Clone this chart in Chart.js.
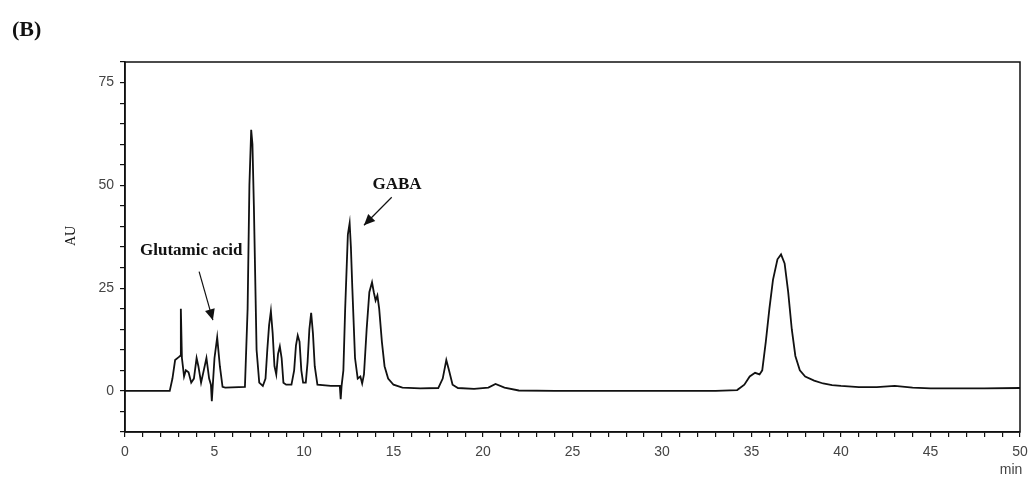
<!DOCTYPE html>
<html>
<head>
<meta charset="utf-8">
<script src="https://cdn.jsdelivr.net/npm/chart.js@4/dist/chart.umd.min.js"></script>
<style>
  html, body { margin: 0; padding: 0; background: #fff; }
  #wrap { width: 1028px; height: 477px; position: relative; }
</style>
</head>
<body>
<div id="wrap"><canvas id="chrom" width="1028" height="477"></canvas></div>
<script>
// Retention time (min) and detector response (AU)
const times = [
  0, 1, 2.5, 2.65, 2.8, 3.0, 3.08, 3.12, 3.18, 3.3, 3.4, 3.55, 3.7, 3.85, 4.0, 4.1,
  4.25, 4.4, 4.55, 4.7, 4.8, 4.85, 4.9, 5.0, 5.15, 5.3, 5.45, 5.6, 6.7, 6.85, 6.95,
  7.05, 7.12, 7.2, 7.35, 7.5, 7.7, 7.85, 7.95, 8.05, 8.15, 8.25, 8.35, 8.45, 8.55,
  8.65, 8.75, 8.85, 9.0, 9.3, 9.45, 9.55, 9.65, 9.75, 9.85, 9.95, 10.1, 10.2, 10.3,
  10.4, 10.5, 10.6, 10.75, 11.5, 12.0, 12.05, 12.1, 12.2, 12.3, 12.45, 12.55, 12.62,
  12.7, 12.85, 13.0, 13.15, 13.25, 13.35, 13.5, 13.65, 13.8, 13.9, 14.0, 14.1, 14.2,
  14.35, 14.5, 14.7, 15.0, 15.5, 16.5, 17.5, 17.75, 17.95, 18.1, 18.3, 18.6, 19.5,
  20.3, 20.7, 21.2, 22.0, 24, 27, 30, 33, 34.2, 34.6, 34.9, 35.2, 35.45, 35.6, 35.8,
  36.0, 36.2, 36.45, 36.65, 36.85, 37.05, 37.25, 37.45, 37.7, 38.0, 38.5, 39.0, 39.5,
  40.0, 41.0, 42.0, 43.0, 44.0, 45.0, 46.0, 48.0, 50.0
];
const au = [
  0, 0, 0, 3, 7.5, 8.2, 8.5, 20, 8, 3.5, 5, 4.5, 2, 3, 8, 6,
  2, 5, 8, 3, 1.5, -2.5, 1, 8, 13, 6, 1, 0.8, 1, 20, 50,
  63.5, 60, 45, 10, 2, 1.2, 3, 10, 16, 19.4, 14, 6, 4, 9,
  10.8, 8, 2, 1.5, 1.5, 5, 11, 13.5, 12, 5, 2, 2, 7, 15,
  19, 14, 6, 1.5, 1.2, 1.2, -2, 1.2, 5, 20, 38, 40.8, 35,
  25, 8, 3, 3.5, 1.8, 4, 15, 24, 26.4, 24, 22, 23.2, 20,
  12, 6, 3, 1.5, 0.8, 0.6, 0.7, 3, 7.5, 5, 1.5, 0.7, 0.5,
  0.8, 1.7, 0.8, 0.1, 0, 0, 0, 0, 0.2, 1.5, 3.5, 4.4, 4, 5, 12,
  20, 27, 32, 33.2, 31, 24, 15, 8.5, 5, 3.5, 2.5, 1.8, 1.4,
  1.2, 0.9, 0.9, 1.2, 0.8, 0.6, 0.6, 0.6, 0.7
];
const yLabels = [0, 25, 50, 75];

const points = times.map((t, i) => ({ x: t, y: au[i] }));

// Box, outer labels and the two peak annotations
const decorations = {
  id: "decorations",
  afterDraw(chart) {
    const { ctx, chartArea: a, scales } = chart;
    const px = v => scales.x.getPixelForValue(v);
    const py = v => scales.y.getPixelForValue(v);
    ctx.save();
    ctx.strokeStyle = "#111";
    ctx.lineWidth = 1.5;
    ctx.strokeRect(a.left, a.top, a.right - a.left, a.bottom - a.top);

    ctx.fillStyle = "#111";
    ctx.font = "bold 22px 'Liberation Serif'";
    ctx.textBaseline = "alphabetic";
    ctx.fillText("(B)", 12, 36);

    ctx.font = "14px 'Liberation Serif'";
    ctx.textAlign = "center";
    ctx.textBaseline = "middle";
    ctx.save();
    ctx.translate(71, 236);
    ctx.rotate(-Math.PI / 2);
    ctx.fillText("AU", 0, 0);
    ctx.restore();

    ctx.fillStyle = "#444";
    ctx.font = "14px 'Liberation Sans'";
    ctx.fillText("min", 1011, 470);

    ctx.fillStyle = "#111";
    ctx.font = "bold 17px 'Liberation Serif'";
    ctx.fillText("Glutamic acid", px(3.7), py(34.2));
    ctx.fillText("GABA", px(15.2), py(50.2));

    const arrow = (x1, y1, x2, y2) => {
      ctx.lineWidth = 1.2;
      ctx.beginPath();
      ctx.moveTo(x1, y1);
      ctx.lineTo(x2, y2);
      ctx.stroke();
      const ang = Math.atan2(y2 - y1, x2 - x1);
      const len = 11, half = 5;
      ctx.beginPath();
      ctx.moveTo(x2, y2);
      ctx.lineTo(x2 - len * Math.cos(ang) + half * Math.sin(ang), y2 - len * Math.sin(ang) - half * Math.cos(ang));
      ctx.lineTo(x2 - len * Math.cos(ang) - half * Math.sin(ang), y2 - len * Math.sin(ang) + half * Math.cos(ang));
      ctx.closePath();
      ctx.fill();
    };
    arrow(px(4.14), py(29), px(4.91), py(17.2));
    arrow(px(14.9), py(47.1), px(13.35), py(40.3));
    ctx.restore();
  }
};

new Chart(document.getElementById("chrom"), {
  type: "line",
  data: {
    datasets: [{
      data: points,
      borderColor: "#111",
      borderWidth: 1.8,
      pointRadius: 0,
      tension: 0,
      fill: false
    }]
  },
  options: {
    responsive: false,
    animation: false,
    events: [],
    layout: { padding: { top: 62, right: 8, left: 0, bottom: 0 } },
    plugins: { legend: { display: false }, tooltip: { enabled: false } },
    scales: {
      x: {
        type: "linear",
        min: 0,
        max: 50,
        afterFit: s => { s.height = 45; s.paddingRight = 0; s.paddingLeft = 0; },
        afterBuildTicks: s => {
          s.ticks = [];
          for (let v = 0; v <= 50; v++) s.ticks.push({ value: v });
        },
        grid: { drawOnChartArea: false, drawTicks: true, tickLength: 5, color: "#111", lineWidth: 1.2 },
        border: { display: true, color: "#111", width: 1.5 },
        ticks: {
          autoSkip: false,
          maxRotation: 0,
          padding: 7,
          color: "#444",
          font: { family: "'Liberation Sans'", size: 14 },
          callback: v => (v % 5 === 0 ? String(v) : "")
        }
      },
      y: {
        min: -10,
        max: 80,
        afterFit: s => { s.width = 125; s.paddingTop = 0; s.paddingBottom = 0; },
        afterBuildTicks: s => {
          s.ticks = [];
          for (let v = -10; v <= 80; v += 5) s.ticks.push({ value: v });
        },
        grid: { drawOnChartArea: false, drawTicks: true, tickLength: 5, color: "#111", lineWidth: 1.2 },
        border: { display: true, color: "#111", width: 1.5 },
        ticks: {
          autoSkip: false,
          padding: 6,
          color: "#444",
          font: { family: "'Liberation Sans'", size: 14 },
          callback: v => (yLabels.includes(v) ? String(v) : "")
        }
      }
    }
  },
  plugins: [decorations]
});
</script>
</body>
</html>
